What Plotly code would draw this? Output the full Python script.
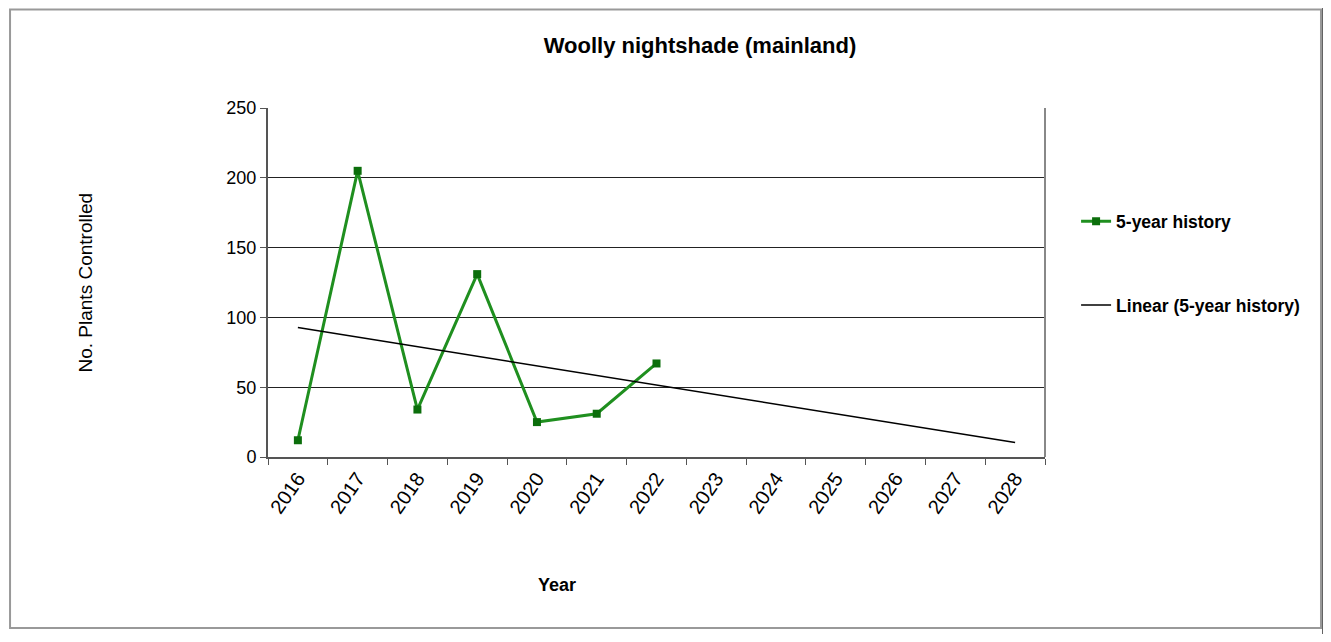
import numpy as np
import plotly.graph_objects as go

# data
years = [str(y) for y in range(2016, 2029)]
hist_years = years[:7]
plants = [12, 205, 34, 131, 25, 31, 67]

# linear trend (least squares) over the history, extended to 2028
xi = np.arange(1, len(hist_years) + 1)
slope, icpt = np.polyfit(xi, plants, 1)
trend = [icpt + slope * (i + 1) for i in range(len(years))]

FONT = "Liberation Sans, Arial, sans-serif"
W, H = 1315, 626  # page body has 8px margins; keep the page inside the window

fig = go.Figure()

fig.add_trace(go.Scatter(
    x=hist_years, y=plants,
    mode='lines+markers',
    name='<b>5-year history</b>',
    line=dict(color='#1f8f1f', width=3),
    marker=dict(symbol='square', size=8, color='#0b6e0b'),
    legendgroup='a'
))

fig.add_trace(go.Scatter(
    x=years, y=trend,
    mode='lines',
    name='<b>Linear (5-year history)</b>',
    line=dict(color='black', width=1.5),
    legendgroup='b'
))

fig.update_layout(
    width=W, height=H,
    margin=dict(l=260, r=W - 260 - 777, t=100, b=H - 100 - 349),
    paper_bgcolor='white', plot_bgcolor='white',
    font=dict(family=FONT, size=18, color='black'),
    title=dict(text='<b>Woolly nightshade (mainland)</b>', x=692 / W, xanchor='center',
               y=1 - 37 / H, yanchor='middle', font=dict(size=22, family=FONT, color='black')),
    showlegend=True,
    legend=dict(x=1.040, xanchor='left', y=0.727, yanchor='top',
                tracegroupgap=58, font=dict(size=17.5, family=FONT, color='black'),
                bgcolor='rgba(0,0,0,0)'),
    xaxis=dict(
        type='category', categoryorder='array', categoryarray=years,
        range=[-0.5, 12.5], tickson='boundaries',
        ticks='outside', ticklen=6, tickcolor='#555', tickangle=-55,
        showline=True, linecolor='#555', linewidth=2, mirror=False,
        showgrid=False, tickfont=dict(size=20, family=FONT, color='black')
    ),
    yaxis=dict(
        range=[0, 250], tickvals=[0, 50, 100, 150, 200, 250],
        ticks='outside', ticklen=6, tickcolor='#555',
        showline=True, linecolor='#555', linewidth=2,
        showgrid=True, gridcolor='#222', gridwidth=1,
        zeroline=False, tickfont=dict(size=18, family=FONT, color='black')
    ),
    annotations=[
        dict(text='No. Plants Controlled', textangle=-90, x=-0.2355, y=0.5,
             xanchor='center', yanchor='middle',
             xref='paper', yref='paper', showarrow=False,
             font=dict(size=19, family=FONT, color='black')),
        dict(text='<b>Year</b>', x=0.372, y=-0.367, xanchor='center', yanchor='middle',
             xref='paper', yref='paper',
             showarrow=False, font=dict(size=18, family=FONT, color='black')),
    ],
    shapes=[
        # right border of the plot area
        dict(type='line', xref='paper', yref='paper', x0=1, x1=1, y0=0, y1=1,
             line=dict(color='#888', width=2)),
        # outer chart frame (kept inside the figure)
        dict(type='rect', xref='paper', yref='paper', x0=-0.3320, x1=1.3552,
             y0=-0.49, y1=1.2823, line=dict(color='#999', width=2)),
        # black strip at the right edge
        dict(type='rect', xref='paper', yref='paper', x0=1.357, x1=1.372,
             y0=-0.55, y1=1.32, line=dict(width=0), fillcolor='black'),
    ]
)

fig.write_html("out.html")
